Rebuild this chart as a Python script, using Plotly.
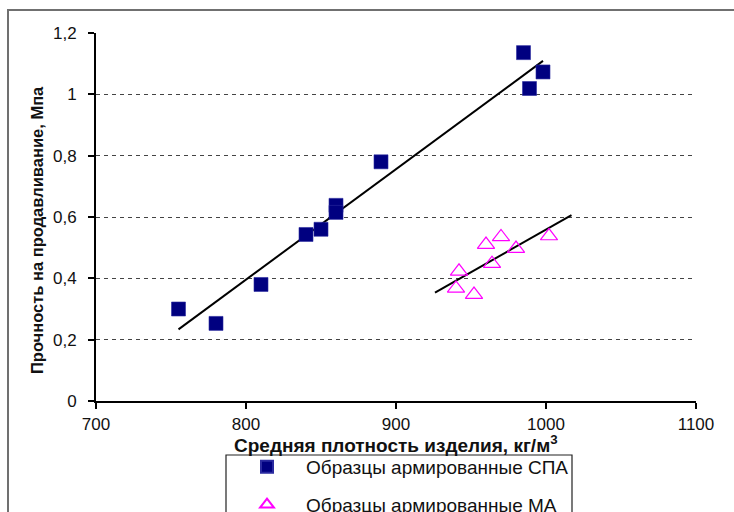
import numpy as np
import plotly.graph_objects as go

# Data
spa_density = [755, 780, 810, 840, 850, 860, 860, 890, 985, 989, 998]
spa_strength = [0.30, 0.253, 0.38, 0.543, 0.56, 0.638, 0.615, 0.78, 1.136, 1.019, 1.073]

ma_density = [960, 970, 980, 1002, 964, 942, 940, 952]
ma_strength = [0.51, 0.535, 0.497, 0.538, 0.448, 0.423, 0.367, 0.347]

series_names = ["Образцы армированные СПА", "Образцы армированные МА"]
x_title = "Средняя плотность изделия, кг/м<sup>3</sup>"
y_title = "Прочность на продавливание, Мпа"
x_ticks = [700, 800, 900, 1000, 1100]
y_ticks = [0, 0.2, 0.4, 0.6, 0.8, 1.0, 1.2]

# Linear trendlines (least squares)
ma_back, ma_fwd = 14, 15
k1, b1 = np.polyfit(spa_density, spa_strength, 1)
t1x = np.array([min(spa_density), max(spa_density)])
k2, b2 = np.polyfit(ma_density, ma_strength, 1)
t2x = np.array([min(ma_density) - ma_back, max(ma_density) + ma_fwd])

FONT = "Arial, Liberation Sans, sans-serif"

fig = go.Figure()
fig.add_trace(go.Scatter(x=t1x, y=k1 * t1x + b1, mode="lines",
                         line=dict(color="black", width=2), showlegend=False,
                         hoverinfo="skip"))
fig.add_trace(go.Scatter(x=t2x, y=k2 * t2x + b2, mode="lines",
                         line=dict(color="black", width=2), showlegend=False,
                         hoverinfo="skip"))
fig.add_trace(go.Scatter(x=spa_density, y=spa_strength, mode="markers",
                         name=series_names[0], legendgroup="a",
                         marker=dict(symbol="square", size=14, color="#000080",
                                     line=dict(width=0.6, color="#2a2aa0"))))
fig.add_trace(go.Scatter(x=ma_density, y=ma_strength, mode="markers",
                         name=series_names[1], legendgroup="b",
                         marker=dict(symbol="triangle-up-open", size=15,
                                     color="#FF00FF", line=dict(width=1.2))))

# pixel geometry: plot area 96..696 x 33..401
W, H = 734, 512
L, R, T, B = 96, 38, 33, 111
PW, PH = W - L - R, H - T - B


def px(x):
    return (x - L) / PW


def py(y):
    return (H - B - y) / PH


shapes = [
    # outer chart frame
    dict(type="rect", xref="paper", yref="paper", x0=px(8), x1=px(745),
         y0=py(530), y1=py(10), line=dict(color="#707070", width=2),
         layer="below"),
    # legend box
    dict(type="rect", xref="paper", yref="paper", x0=px(226), x1=px(572),
         y0=py(530), y1=py(455), line=dict(color="#222", width=1.2)),
]

annotations = [
    dict(text=x_title, xref="paper", yref="paper", x=0.5, y=py(444),
         xanchor="center", yanchor="middle", showarrow=False,
         font=dict(family=FONT, size=19, color="#111", weight="bold")),
    dict(text=y_title, xref="paper", yref="paper", x=px(37), y=py(230),
         xanchor="center", yanchor="middle", showarrow=False, textangle=-90,
         font=dict(family=FONT, size=16.5, color="#111", weight="bold")),
]

fig.update_layout(
    width=W, height=H,
    margin=dict(l=L, r=R, t=T, b=B, autoexpand=False),
    paper_bgcolor="white", plot_bgcolor="white",
    separators=", ",
    font=dict(family=FONT, size=17, color="#111"),
    shapes=shapes,
    annotations=annotations,
    showlegend=True,
    legend=dict(x=px(228), y=py(448), xanchor="left", yanchor="top",
                font=dict(family=FONT, size=19, color="#111"),
                bgcolor="rgba(0,0,0,0)", borderwidth=0, itemwidth=68,
                itemsizing="constant",
                tracegroupgap=10, traceorder="grouped"),
)
fig.update_xaxes(range=[700, 1100], tickvals=x_ticks, showgrid=False,
                 showline=True, linecolor="black", linewidth=2,
                 ticks="outside", ticklen=6, tickwidth=2, tickcolor="black",
                 zeroline=False, ticklabelstandoff=1,
                 tickfont=dict(size=17))
fig.update_yaxes(range=[0, 1.2], tickvals=y_ticks, showgrid=True,
                 gridcolor="#444", gridwidth=1, griddash="4px,4px",
                 showline=True, linecolor="black", linewidth=2,
                 ticks="outside", ticklen=6, tickwidth=2, tickcolor="black",
                 zeroline=False, ticklabelstandoff=8,
                 tickfont=dict(size=17))

fig.write_html(
    "out.html",
    config=dict(displayModeBar=False),
    post_script="document.body.style.margin='0';"
                "document.body.style.overflow='hidden';",
)
